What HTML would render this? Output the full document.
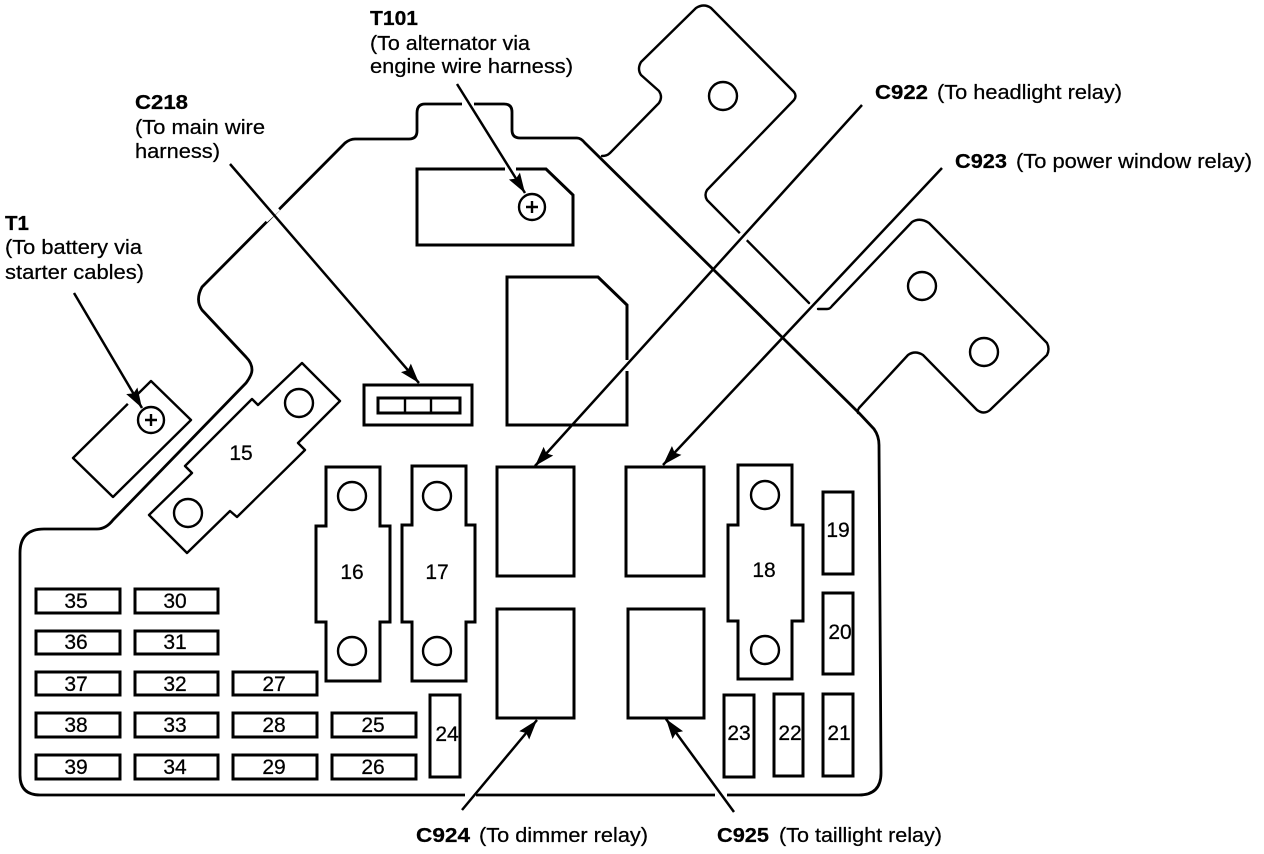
<!DOCTYPE html>
<html><head><meta charset="utf-8"><style>
html,body{margin:0;padding:0;background:#fff}
svg{display:block}
text{font-family:"Liberation Sans",sans-serif;fill:#000;stroke:#000;stroke-width:.25}
.l{font-size:20px}
.b{font-size:20px;font-weight:bold}
.n{font-size:21px;text-anchor:middle}
.o{fill:none;stroke:#000;stroke-width:2.4;stroke-linejoin:round;stroke-linecap:round}
.hs{stroke-width:2.8}
.t{fill:none;stroke:#000;stroke-width:3;stroke-linejoin:miter}
.h{fill:none;stroke:#000;stroke-width:2.4}
.a{stroke:#000;stroke-width:2.5;fill:none}
.w{stroke:#fff;stroke-width:9;fill:none}
</style></head><body>
<svg width="1264" height="854" viewBox="0 0 1264 854" xmlns="http://www.w3.org/2000/svg">
<rect width="1264" height="854" fill="#fff"/>
<defs><marker id="ah" markerUnits="userSpaceOnUse" markerWidth="22" markerHeight="16" refX="20" refY="8" orient="auto"><path d="M0,1.5 L20,8 L0,14.5 L3,8 Z" fill="#000"/></marker></defs>

<!-- housing outline -->
<path class="o hs" d="M20,553 Q20,529 44,529 L97,529 Q106,529 113,520 L246,383 Q252,375 252,370 Q252,363 246,357 L202,310 Q195,300 202,287 L345,143 Q350,139 355,139 L409,139 Q417,139 417,131 L417,113 Q417,104 425,104 L504,104 Q512,104 512,112 L512,130 Q512,138 520,138 L577,138 Q581,138 585,143 L859,413 L874,429 Q879,436 879,445 L881,773 Q881,795 859,795 L40,795 Q20,795 20,775 Z"/>
<!-- upper bracket -->
<path class="o" d="M602,156 Q607,156 610,153 L659,103 Q663,97 659,91 L641,75 Q637,69 641,62 L696,8 Q704,3 711,8 L794,92 Q797,96 794,100 L707,190 Q704,195 707,200 L809,303"/>
<!-- lower bracket -->
<path class="o" d="M818,309 L827,309 Q830,309 832,306 L912,222 Q920,217 929,223 L1047,343 Q1050,349 1047,355 L990,410 Q984,415 977,410 L923,355 Q915,350 908,355 L859,408 Q857,411 858,413"/>
<circle class="h" cx="723" cy="96" r="14"/>
<circle class="h" cx="922" cy="286" r="14"/>
<circle class="h" cx="984" cy="352" r="14"/>

<!-- terminal blocks -->
<polygon class="t" points="417,169 546,169 573,195 573,245 417,245"/>
<circle class="h" cx="532" cy="207" r="13"/>
<path d="M526,207H538M532,201V213" stroke="#000" stroke-width="2.4"/>
<polygon class="t" points="507,277 598,277 627,305 627,425 507,425"/>
<rect class="t" x="364" y="385" width="108" height="40"/>
<rect class="t" x="378" y="398" width="82" height="15"/>
<path d="M405,398V413M431,398V413" stroke="#000" stroke-width="2.4"/>
<polygon class="o" points="73,458 113,497 191,420 151,381"/>
<circle class="h" style="fill:#fff" cx="151" cy="420" r="13"/>
<path d="M145,420H157M151,414V426" stroke="#000" stroke-width="2.4"/>

<!-- fuse 15 -->
<polygon class="o" points="149,515 192,473 185,466 252,399 258,405 302,363 340,401 298,443 305,450 237,517 230,511 187,553"/>
<circle class="h" cx="299" cy="403" r="14"/>
<circle class="h" cx="188" cy="513" r="14"/>
<text class="n" x="241" y="460">15</text>

<!-- fuses 16,17,18 -->
<polygon class="t" points="326,467 380,467 380,526 390,526 390,622 380,622 380,681 326,681 326,622 316,622 316,526 326,526"/>
<circle class="h" cx="352" cy="496" r="14"/><circle class="h" cx="352" cy="651" r="14"/>
<text class="n" x="352" y="579">16</text>
<polygon class="t" points="412,466 466,466 466,525 475,525 475,622 466,622 466,681 412,681 412,622 402,622 402,525 412,525"/>
<circle class="h" cx="437" cy="496" r="14"/><circle class="h" cx="437" cy="651" r="14"/>
<text class="n" x="437" y="579">17</text>
<polygon class="t" points="738,465 792,465 792,525 803,525 803,621 792,621 792,679 738,679 738,621 728,621 728,525 738,525"/>
<circle class="h" cx="765" cy="495" r="14"/><circle class="h" cx="765" cy="650" r="14"/>
<text class="n" x="764" y="577">18</text>

<!-- relays -->
<rect class="t" x="497" y="467" width="77" height="109"/>
<rect class="t" x="626" y="467" width="78" height="109"/>
<rect class="t" x="497" y="609" width="77" height="109"/>
<rect class="t" x="628" y="609" width="76" height="109"/>

<!-- tall fuses -->
<rect class="t" x="823" y="492" width="30" height="82"/><text class="n" x="838" y="537">19</text>
<rect class="t" x="823" y="593" width="30" height="81"/><text class="n" x="840" y="639">20</text>
<rect class="t" x="823" y="694" width="30" height="82"/><text class="n" x="839" y="740">21</text>
<rect class="t" x="774" y="694" width="29" height="82"/><text class="n" x="790" y="740">22</text>
<rect class="t" x="724" y="695" width="30" height="82"/><text class="n" x="739" y="740">23</text>
<rect class="t" x="430" y="695" width="30" height="82"/><text class="n" x="447" y="741">24</text>

<!-- small fuses -->
<rect class="t" x="36" y="589" width="84" height="24"/><rect class="t" x="135" y="589" width="83" height="24"/>
<rect class="t" x="36" y="631" width="84" height="23"/><rect class="t" x="135" y="631" width="83" height="23"/>
<rect class="t" x="36" y="672" width="84" height="23"/><rect class="t" x="135" y="672" width="83" height="23"/><rect class="t" x="233" y="672" width="84" height="23"/>
<rect class="t" x="36" y="713" width="84" height="24"/><rect class="t" x="135" y="713" width="83" height="24"/><rect class="t" x="233" y="713" width="84" height="24"/><rect class="t" x="332" y="713" width="84" height="24"/>
<rect class="t" x="36" y="755" width="84" height="24"/><rect class="t" x="135" y="755" width="83" height="24"/><rect class="t" x="233" y="755" width="84" height="24"/><rect class="t" x="332" y="755" width="84" height="24"/>
<text class="n" x="76" y="608">35</text><text class="n" x="175" y="608">30</text>
<text class="n" x="76" y="649">36</text><text class="n" x="175" y="649">31</text>
<text class="n" x="76" y="691">37</text><text class="n" x="175" y="691">32</text><text class="n" x="274" y="691">27</text>
<text class="n" x="76" y="732">38</text><text class="n" x="175" y="732">33</text><text class="n" x="274" y="732">28</text><text class="n" x="373" y="732">25</text>
<text class="n" x="76" y="774">39</text><text class="n" x="175" y="774">34</text><text class="n" x="274" y="774">29</text><text class="n" x="373" y="774">26</text>

<!-- gaps at leader crossings -->
<path class="w" d="M264,219 L277,207"/>
<path class="w" d="M462,104 L474,104"/>
<path class="w" d="M505,169 L516,169"/>
<path class="w" d="M627,360 L627,371"/>
<path class="w" d="M740,233 L747,240"/>
<path class="w" d="M128,404 L138,394"/>
<path class="w" d="M465,795 L476,795"/>
<path class="w" d="M715,795 L727,795"/>

<!-- leaders -->
<line class="a" x1="74" y1="293" x2="142" y2="408" marker-end="url(#ah)"/>
<line class="a" x1="230" y1="164" x2="419" y2="383" marker-end="url(#ah)"/>
<line class="a" x1="457" y1="84" x2="525" y2="193" marker-end="url(#ah)"/>
<line class="a" x1="862" y1="105" x2="535" y2="466" marker-end="url(#ah)"/>
<line class="a" x1="942" y1="168" x2="663" y2="465" marker-end="url(#ah)"/>
<line class="a" x1="462" y1="810" x2="537" y2="720" marker-end="url(#ah)"/>
<line class="a" x1="734" y1="812" x2="666" y2="719" marker-end="url(#ah)"/>

<!-- labels -->
<text class="b" x="370" y="25" textLength="48" lengthAdjust="spacingAndGlyphs">T101</text>
<text class="l" x="370" y="50" textLength="160" lengthAdjust="spacingAndGlyphs">(To alternator via</text>
<text class="l" x="370" y="73" textLength="203" lengthAdjust="spacingAndGlyphs">engine wire harness)</text>
<text class="b" x="135" y="109" textLength="53" lengthAdjust="spacingAndGlyphs">C218</text>
<text class="l" x="135" y="134" textLength="130" lengthAdjust="spacingAndGlyphs">(To main wire</text>
<text class="l" x="135" y="158" textLength="85" lengthAdjust="spacingAndGlyphs">harness)</text>
<text class="b" x="5" y="230" textLength="24" lengthAdjust="spacingAndGlyphs">T1</text>
<text class="l" x="5" y="254" textLength="137" lengthAdjust="spacingAndGlyphs">(To battery via</text>
<text class="l" x="5" y="279" textLength="139" lengthAdjust="spacingAndGlyphs">starter cables)</text>
<text class="b" x="875" y="99" textLength="53" lengthAdjust="spacingAndGlyphs">C922</text>
<text class="l" x="937" y="99" textLength="185" lengthAdjust="spacingAndGlyphs">(To headlight relay)</text>
<text class="b" x="955" y="168" textLength="52" lengthAdjust="spacingAndGlyphs">C923</text>
<text class="l" x="1016" y="168" textLength="236" lengthAdjust="spacingAndGlyphs">(To power window relay)</text>
<text class="b" x="416" y="842" textLength="54" lengthAdjust="spacingAndGlyphs">C924</text>
<text class="l" x="479" y="842" textLength="169" lengthAdjust="spacingAndGlyphs">(To dimmer relay)</text>
<text class="b" x="717" y="842" textLength="52" lengthAdjust="spacingAndGlyphs">C925</text>
<text class="l" x="779" y="842" textLength="163" lengthAdjust="spacingAndGlyphs">(To taillight relay)</text>
</svg>
</body></html>
